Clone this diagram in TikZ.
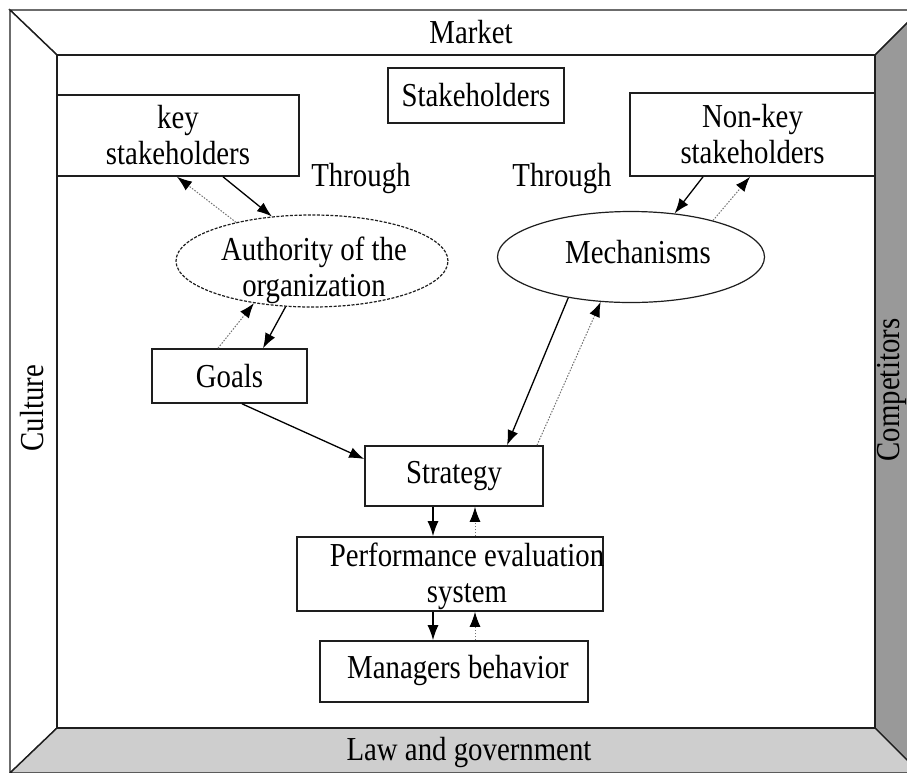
\documentclass[tikz,border=0pt]{standalone}
\usepackage{fontspec}
\setmainfont{Liberation Serif}[FakeStretch=0.86]
\usetikzlibrary{shapes.geometric,arrows.meta}
\definecolor{rightgray}{RGB}{153,153,153}
\definecolor{bottomgray}{RGB}{206,206,206}
\definecolor{linec}{RGB}{30,30,30}
\newcommand\dfont{\fontsize{33.5}{36}\selectfont}
\begin{document}
\begin{tikzpicture}[x=1pt,y=-1pt,
  panel/.style={draw=linec,line width=1.4pt,line join=miter},
  lbl/.style={inner sep=0pt,font=\dfont,align=center},
  box/.style={draw=linec,line width=1.6pt,fill=white,inner sep=0pt,align=center,font=\dfont},
  ell/.style={ellipse,draw=linec,line width=1.2pt,fill=white,inner sep=0pt},
  solidarr/.style={draw=black,line width=1.3pt,-{Latex[length=15pt,width=11pt]}},
  dotarr/.style={draw=black!55,line width=1pt,dash pattern=on 1.5pt off 1.5pt,
     -{Latex[length=15pt,width=11pt,fill=black,color=black]}}]
\useasboundingbox (0,0) rectangle (907,772);
\clip (0,0) rectangle (907,772);
% frame corners
\coordinate (OTL) at (10,10);
\coordinate (OTR) at (920,10);
\coordinate (OBR) at (920,773);
\coordinate (OBL) at (10,773);
\coordinate (ITL) at (57,55);
\coordinate (ITR) at (875,55);
\coordinate (IBR) at (875,728);
\coordinate (IBL) at (57,728);
\fill[white] (0,0) rectangle (907,772);
\filldraw[panel,fill=white] (OTL) -- (OTR) -- (ITR) -- (ITL) -- cycle;
\filldraw[panel,fill=white] (OTL) -- (ITL) -- (IBL) -- (OBL) -- cycle;
\filldraw[panel,fill=rightgray] (OTR) -- (OBR) -- (IBR) -- (ITR) -- cycle;
\filldraw[panel,fill=bottomgray] (IBL) -- (IBR) -- (OBR) -- (OBL) -- cycle;
\filldraw[panel,fill=white,line width=1.8pt] (ITL) rectangle (IBR);
% panel labels
\node[lbl] (market) at (471,32) {Market};
\node[lbl] (law) at (469,752) {Law and government};
\node[lbl,rotate=90] (culture) at (32,408) {Culture};
\node[lbl,rotate=90] (comp) at (892,390) {Competitors};
% boxes
\node[box,minimum width=176,minimum height=55] (stake) at (476,95.5) {Stakeholders};
\node[box,minimum width=242,minimum height=81] (key) at (178,135.5) {key\\stakeholders};
\node[box,minimum width=245,minimum height=83] (nonkey) at (752.5,134.5) {Non-key\\stakeholders};
\node[lbl] (through1) at (361,178) {Through};
\node[lbl] (through2) at (562,178) {Through};
\node[ell,dashed,dash pattern=on 3pt off 1.5pt,minimum width=272,minimum height=92] (auth) at (312,261) {};
\node[lbl] (authtext) at (314,270) {Authority of the\\organization};
\node[ell,minimum width=267,minimum height=91] (mech) at (631,257) {};
\node[lbl] (mechtext) at (638,252) {Mechanisms};
\node[box,minimum width=155,minimum height=54] (goals) at (229.5,376) {Goals};
\node[box,minimum width=178,minimum height=60] (strategy) at (454,476) {Strategy};
\node[box,minimum width=306,minimum height=74] (pes) at (450,574) {};
\node[lbl] (pestext) at (467,576) {Performance evaluation\\system};
\node[box,minimum width=268,minimum height=61] (mgr) at (454,671.5) {};
\node[lbl] (mgrtext) at (458,670) {Managers behavior};
% connectors
\draw[solidarr] (223,0 |- key.south) -- (auth.132);
\draw[dotarr] (auth.153) -- (177,0 |- key.south);
\draw[solidarr] (auth.240) -- (263,0 |- goals.north);
\draw[dotarr] (218,0 |- goals.north) -- (auth.216);
\draw[solidarr] (242,0 |- goals.south) -- (strategy.west |- 0,459);
\draw[solidarr] (703,0 |- nonkey.south) -- (mech.45);
\draw[dotarr] (mech.24) -- (750,0 |- nonkey.south);
\draw[solidarr] (mech.213) -- (507,0 |- strategy.north);
\draw[dotarr] (537,0 |- strategy.north) -- (mech.236);
\draw[solidarr] (433,0 |- strategy.south) -- (433,0 |- pes.north);
\draw[dotarr] (475,0 |- pes.north) -- (475,0 |- strategy.south);
\draw[solidarr] (433,0 |- pes.south) -- (433,0 |- mgr.north);
\draw[dotarr] (475,0 |- mgr.north) -- (475,0 |- pes.south);
\end{tikzpicture}
\end{document}
